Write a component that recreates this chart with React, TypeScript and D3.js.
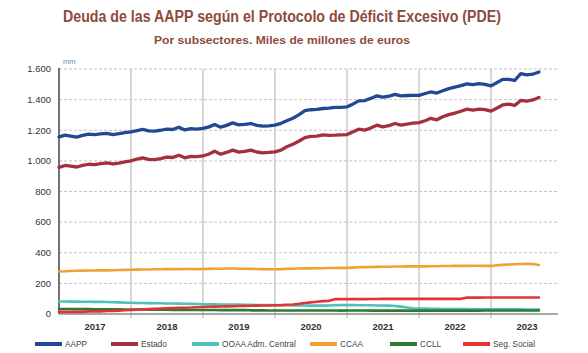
import * as d3 from "d3"

// Deuda PDE por subsectores, datos mensuales ene-2017 .. sep-2023 (miles de millones)
const startYear = 2017
const years = ["2017", "2018", "2019", "2020", "2021", "2022", "2023"]
const yTicks = [0, 200, 400, 600, 800, 1000, 1200, 1400, 1600]

const aapp = [
  1157, 1168, 1162, 1155, 1166, 1175, 1172, 1176, 1179, 1172, 1178, 1185,
  1190, 1198, 1205, 1196, 1194, 1200, 1207, 1205, 1220, 1202, 1210, 1208,
  1212, 1222, 1238, 1220, 1232, 1248, 1235, 1238, 1244, 1232, 1227, 1228,
  1233, 1245, 1262, 1278, 1300, 1328, 1334, 1336, 1342, 1345, 1349, 1350,
  1353, 1372, 1392, 1394, 1408, 1425, 1416, 1422, 1434, 1425, 1427, 1428,
  1428, 1440, 1450, 1443, 1458, 1472, 1482, 1492, 1503, 1498, 1505, 1500,
  1490, 1512, 1532, 1532, 1525, 1570, 1562, 1566, 1580,
]
const estado = [
  958, 970, 965, 960, 970, 978, 976, 982, 987, 980, 985, 993,
  1000, 1012, 1020, 1010, 1008, 1015, 1024, 1022, 1037, 1020, 1030, 1028,
  1032, 1045, 1063, 1044, 1055, 1070, 1057, 1062, 1070, 1058, 1052, 1055,
  1059, 1070, 1092, 1108, 1128, 1152, 1160, 1161, 1170, 1167, 1168, 1170,
  1172, 1190, 1207, 1201, 1215, 1233, 1222, 1230, 1244, 1233, 1240, 1246,
  1250, 1262, 1278, 1268, 1288, 1302, 1312, 1324, 1338, 1332, 1338, 1335,
  1325, 1345, 1365, 1370, 1362, 1395, 1390, 1398, 1414,
]
const ooaa = [
  82, 82, 81, 81, 80, 80, 79, 79, 78, 77, 76, 74,
  73, 72, 72, 71, 70, 70, 69, 69, 68, 67, 66, 65,
  64, 63, 63, 62, 62, 61, 61, 60, 60, 59, 59, 58,
  58, 57, 57, 56, 56, 56, 55, 55, 55, 56, 57, 58,
  58, 58, 57, 57, 57, 56, 56, 55, 52, 48, 42, 38,
  36, 35, 34, 34, 33, 33, 32, 32, 32, 31, 31, 31,
  30, 30, 30, 30, 30, 30, 29, 29, 29,
]
const ccaa = [
  278, 279, 281, 282, 283, 284, 284, 285, 285, 286, 287, 288,
  289, 290, 291, 291, 292, 292, 293, 293, 293, 294, 294, 293,
  294, 295, 296, 296, 297, 297, 296, 296, 295, 294, 293, 292,
  292, 293, 295, 296, 297, 298, 298, 299, 299, 300, 300, 301,
  301, 303, 305, 306, 307, 308, 309, 309, 310, 310, 311, 311,
  311, 311, 312, 312, 313, 313, 314, 314, 314, 315, 315, 314,
  314, 318, 321, 323, 325, 327, 328, 326, 320,
]
const ccll = [
  33, 33, 33, 32, 32, 32, 31, 31, 31, 30, 30, 29,
  29, 29, 29, 28, 28, 28, 28, 27, 27, 27, 26, 26,
  26, 26, 26, 25, 25, 25, 25, 25, 24, 24, 24, 23,
  23, 23, 23, 23, 23, 23, 23, 23, 23, 23, 23, 22,
  23, 23, 23, 23, 22, 22, 22, 22, 22, 22, 22, 22,
  22, 22, 22, 22, 22, 22, 22, 22, 22, 22, 22, 23,
  23, 23, 23, 23, 23, 23, 23, 23, 23,
]
const segSocial = [
  14, 14, 14, 14, 14, 17, 17, 17, 20, 20, 22, 24,
  26, 28, 30, 32, 34, 36, 38, 39, 40, 41, 42, 44,
  46, 47, 48, 49, 50, 51, 52, 53, 54, 55, 56, 56,
  57, 58, 60, 62, 66, 72, 76, 80, 84, 86, 97, 97,
  97, 97, 97, 97, 98, 98, 99, 99, 99, 99, 99, 99,
  99, 99, 99, 99, 99, 99, 99, 99, 107, 107, 107, 108,
  108, 108, 108, 108, 108, 108, 108, 108, 108,
]

const seriesNames = ["AAPP", "Estado", "OOAA Adm. Central", "CCAA", "CCLL", "Seg. Social"]
const seriesValues = [aapp, estado, ooaa, ccaa, ccll, segSocial]
const seriesColors = ["#1f4a93", "#a3303c", "#4cc2b8", "#f0a132", "#2f7a30", "#e23434"]

const W = 588
const H = 353
const margin = { left: 59, right: 30, top: 69, bottom: 314 }
const legendX = [35, 111, 192, 310, 390, 463]

const esLocale = d3.formatLocale({ decimal: ",", thousands: ".", grouping: [3], currency: ["", " €"] })
const fmt = esLocale.format(",")

export default function App() {
  const x = d3
    .scaleTime()
    .domain([new Date(startYear, 0, 1), new Date(startYear + years.length, 0, 1)])
    .range([margin.left, 563])
  const y = d3.scaleLinear().domain([0, 1600]).range([margin.bottom, margin.top])
  const plotRight = W - margin.right

  const line = d3
    .line<number>()
    .x((_, i) => x(new Date(startYear, i, 1)))
    .y((d) => y(d))

  const yearBounds = years.slice(1).map((yr) => x(new Date(+yr, 0, 1)))

  return (
    <>
      <style>{`body{margin:0}`}</style>
      <svg width={W} height={H} style={{ display: "block", background: "#fff" }}>
        {/* titles */}
        <text
          x={282}
          y={22}
          textAnchor="middle"
          fontFamily="Liberation Sans, Arial, sans-serif"
          fontWeight="bold"
          fontSize={16}
          fill="#8e4a3c"
          textLength={438}
          lengthAdjust="spacingAndGlyphs"
        >
          Deuda de las AAPP según el Protocolo de Déficit Excesivo (PDE)
        </text>
        <text
          x={282}
          y={43.5}
          textAnchor="middle"
          fontFamily="Liberation Sans, Arial, sans-serif"
          fontWeight="bold"
          fontSize={11.5}
          fill="#8e4a3c"
          textLength={256}
          lengthAdjust="spacingAndGlyphs"
        >
          Por subsectores. Miles de millones de euros
        </text>

        {/* horizontal dashed grid */}
        {yTicks.slice(1).map((t) => (
          <line
            key={t}
            x1={margin.left}
            x2={plotRight}
            y1={y(t)}
            y2={y(t)}
            stroke="#c4c4c4"
            strokeWidth={1}
            strokeDasharray="3,2"
          />
        ))}

        {/* vertical year separators */}
        {yearBounds.map((bx, i) => (
          <line key={i} x1={bx} x2={bx} y1={margin.top} y2={margin.bottom + 4} stroke="#c2c2c2" strokeWidth={1.3} />
        ))}

        {/* axes */}
        <line x1={margin.left} x2={plotRight} y1={y(0)} y2={y(0)} stroke="#8a8a8a" strokeWidth={1.5} />
        <line x1={margin.left} x2={margin.left} y1={margin.top - 1} y2={y(0)} stroke="#444" strokeWidth={1.5} />

        {/* y tick labels */}
        {yTicks.map((t) => (
          <text
            key={t}
            x={51}
            y={y(t)}
            dy="0.35em"
            textAnchor="end"
            fontFamily="Liberation Sans, Arial, sans-serif"
            fontSize={9.5}
            fill="#333"
          >
            {fmt(t)}
          </text>
        ))}
        <text x={63} y={64} fontFamily="Liberation Sans, Arial, sans-serif" fontSize={7.5} fill="#6f8fae">
          mm
        </text>

        {/* year labels */}
        {years.map((yr) => {
          const cx = (x(new Date(+yr, 0, 1)) + x(new Date(+yr + 1, 0, 1))) / 2
          return (
            <text
              key={yr}
              x={cx}
              y={329.5}
              textAnchor="middle"
              fontFamily="Liberation Sans, Arial, sans-serif"
              fontWeight="bold"
              fontSize={9.5}
              fill="#333"
            >
              {yr}
            </text>
          )
        })}

        {/* series */}
        {seriesValues.map((vals, i) => (
          <path
            key={seriesNames[i]}
            d={line(vals) ?? ""}
            fill="none"
            stroke={seriesColors[i]}
            strokeWidth={i < 2 ? 3.3 : 2.6}
            strokeLinejoin="round"
            strokeLinecap="round"
          />
        ))}

        {/* legend */}
        {seriesNames.map((name, i) => (
          <g key={name} transform={`translate(${legendX[i]},344)`}>
            <line x1={0} x2={27} y1={0} y2={0} stroke={seriesColors[i]} strokeWidth={4} />
            <text
              x={30}
              y={0}
              dy="0.35em"
              fontFamily="Liberation Sans Narrow, Arial Narrow, Liberation Sans, sans-serif"
              fontSize={8.3}
              fill="#444"
            >
              {name}
            </text>
          </g>
        ))}
      </svg>
    </>
  )
}
